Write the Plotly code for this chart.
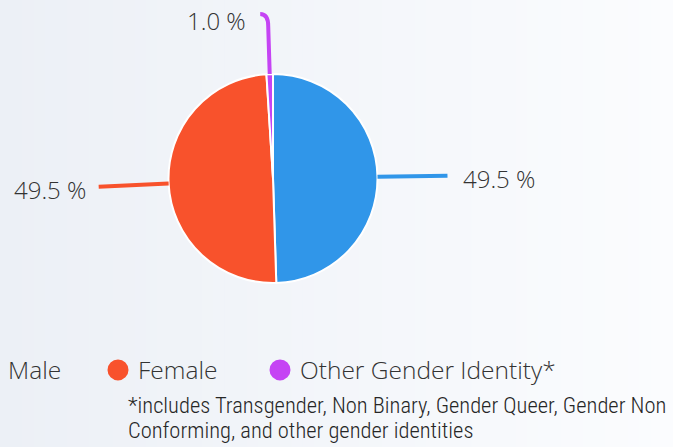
import math
import plotly.graph_objects as go

# ---------------- data ----------------
categories = ["Male", "Female", "Other Gender Identity*"]
shares = [49.5, 49.5, 1.0]
slice_colors = ["#3096e9", "#f8522c", "#c544f4"]
label_texts = [f"{v:.1f} %" for v in shares]
footnote_lines = [
    "*includes Transgender, Non Binary, Gender Queer, Gender Non",
    "Conforming, and other gender identities",
]

# ---------------- geometry / style ----------------
W, H = 673, 447
CX, CY, R = 273.0, 178.5, 104.5
LABEL_FONT = dict(family="Open Sans, Lato, sans-serif", size=24, color="#333333", weight=300)
LEGEND_FONT = dict(family="Open Sans, Lato, sans-serif", size=24.5, color="#333333", weight=300)
NOTE_FONT = dict(family="Roboto Condensed, Liberation Sans Narrow, Roboto, sans-serif", size=22.5,
                 color="#262626", weight=350)

fig = go.Figure()

# background gradient (left light grey-blue -> right near white)
N = 60
c0, c1 = (236, 240, 246), (251, 252, 254)
for i in range(N):
    t = i / (N - 1)
    col = "rgb({},{},{})".format(*[round(a + (b - a) * t) for a, b in zip(c0, c1)])
    fig.add_shape(type="rect", xref="paper", yref="paper", x0=i / N, x1=(i + 1) / N + 0.002,
                  y0=0, y1=1, fillcolor=col, line_width=0, layer="below")

# pie
fig.add_trace(go.Pie(
    labels=categories, values=shares, sort=False, direction="clockwise", rotation=0,
    marker=dict(colors=slice_colors, line=dict(color="white", width=2)),
    textinfo="none", hoverinfo="label+percent", showlegend=False,
    domain=dict(x=[(CX - R) / W, (CX + R) / W], y=[1 - (CY + R) / H, 1 - (CY - R) / H]),
))

# leader lines and labels, computed from slice mid-angles
total = sum(shares)
cum = 0.0
def pt(theta_deg, r):
    th = math.radians(theta_deg)
    return CX + r * math.sin(th), CY - r * math.cos(th)

for val, col, txt in zip(shares, slice_colors, label_texts):
    mid = (cum + val / 2) / total * 360.0
    cum += val
    s = math.sin(math.radians(mid))
    x0, y0 = pt(mid, R)
    side = 1 if s > 0 else -1
    if abs(s) > 0.3:
        x1, y1 = pt(mid, R + 70)
        fig.add_shape(type="line", xref="x", yref="y", x0=x0, y0=y0, x1=x1, y1=y1,
                      line=dict(color=col, width=4))
        fig.add_annotation(xref="x", yref="y", x=x1 + side * (14 if side > 0 else 11), y=y1 + 3,
                           text=txt, showarrow=False,
                           xanchor="left" if side > 0 else "right",
                           yanchor="middle", font=LABEL_FONT)
    else:
        x1, y1 = pt(mid, R + 48)
        x2, y2 = x1, y1 - 12
        x3, y3 = x1 + side * 8, y1 - 12
        path = f"M {x0},{y0} L {x1},{y1} Q {x2},{y2} {x3},{y3}"
        fig.add_shape(type="path", xref="x", yref="y", path=path,
                      line=dict(color=col, width=4))
        fig.add_annotation(xref="x", yref="y", x=x3 + side * 12, y=y3 + 6, text=txt,
                           showarrow=False, xanchor="left" if side > 0 else "right",
                           yanchor="middle", font=LABEL_FONT)

# legend entries (one legend per entry for exact placement)
legend_text_x = [8, 138, 300]
legend_names = ["legend", "legend2", "legend3"]
for name, col, lg in zip(categories, slice_colors, legend_names):
    fig.add_trace(go.Scatter(x=[None], y=[None], mode="markers", name=name, legend=lg,
                             marker=dict(size=16, color=col, line=dict(color=col, width=5))))

leg_common = dict(orientation="h", bgcolor="rgba(0,0,0,0)", font=LEGEND_FONT,
                  xanchor="left", yanchor="middle", y=1 - 370 / H, itemwidth=30)
layout_legends = {}
for lg, tx in zip(legend_names, legend_text_x):
    layout_legends[lg] = dict(leg_common, x=(tx - 40) / W)

# footnote
for i, line in enumerate(footnote_lines):
    fig.add_annotation(xref="paper", yref="paper", x=126 / W, y=1 - (405 + 25 * i) / H,
                       xanchor="left", yanchor="middle", text=line, showarrow=False,
                       font=NOTE_FONT, align="left")

fig.update_layout(
    width=W, height=H, margin=dict(l=0, r=0, t=0, b=0, autoexpand=False),
    paper_bgcolor="#f4f6fa", plot_bgcolor="rgba(0,0,0,0)",
    xaxis=dict(range=[0, W], visible=False, domain=[0, 1], fixedrange=True),
    yaxis=dict(range=[H, 0], visible=False, domain=[0, 1], fixedrange=True),
    showlegend=True,
    **layout_legends,
)

fig.write_html("out.html", config={"displayModeBar": False},
               post_script="document.body.style.margin='0';")
